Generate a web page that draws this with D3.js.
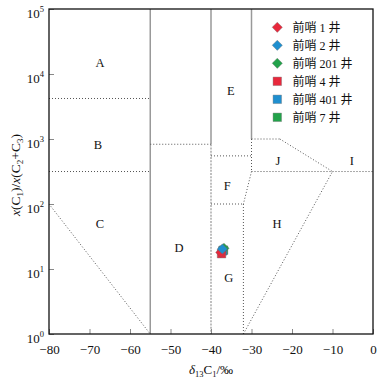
<!DOCTYPE html>
<html><head><meta charset="utf-8">
<script src="https://cdn.jsdelivr.net/npm/d3@7"></script>
<style>
html,body{margin:0;padding:0;background:#fff;}
text{font-family:"Liberation Serif","Times New Roman","Noto Sans CJK SC",serif;fill:#111;}
</style></head>
<body><svg id="c" width="387" height="380"></svg>
<script>
// ---- data ----
const xTicks = [-80, -70, -60, -50, -40, -30, -20, -10, 0];
const yExponents = [0, 1, 2, 3, 4, 5];
const wells = ["前哨 1 井", "前哨 2 井", "前哨 201 井", "前哨 4 井", "前哨 401 井", "前哨 7 井"];
const wellShapes = ["diamond", "diamond", "diamond", "square", "square", "square"];
const wellColors = ["#e8283c", "#1f8fcf", "#22a24a", "#e8283c", "#1f8fcf", "#22a24a"];
const wellD13C1 = [-37.6, -37.2, -36.8, -37.4, -37.1, -36.9];
const wellRatio = [18.0, 20.3, 20.8, 17.2, 19.0, 19.5];
const drawOrder = [5, 4, 2, 3, 0, 1];
const solidLines = [
  [[-55, 1e5], [-55, 1]],
  [[-40, 1e5], [-40, 830]],
  [[-30, 1e5], [-30, 1000]]
];
const dashedLines = [
  [[-40, 830], [-40, 1]]
];
const dottedLines = [
  [[-80, 4200], [-55, 4200]],
  [[-80, 316], [-55, 316]],
  [[-80, 100], [-55, 1]],
  [[-55, 830], [-40, 830]],
  [[-40, 550], [-30, 550]],
  [[-30, 1000], [-23, 1000]],
  [[-23, 1000], [-10, 316]],
  [[-30, 1000], [-30, 316]],
  [[-30, 316], [0, 316]],
  [[-30, 316], [-32, 100]],
  [[-40, 100], [-32, 100]],
  [[-32, 100], [-32, 1]],
  [[-32, 1], [-10, 316]]
];
const zoneNames = ["A", "B", "C", "D", "E", "F", "G", "H", "I", "J"];
const zoneX = [-67.4, -67.9, -67.4, -47.9, -35.1, -36.0, -35.6, -23.7, -5.2, -23.5];
const zoneY = [15100, 830, 51, 21.8, 5650, 196, 7.5, 51, 475, 475];

// ---- chart ----
const svg = d3.select("#c");
const L = 49, R = 373, T = 9, B = 334;
const x = d3.scaleLinear().domain([-80, 0]).range([L, R]);
const y = d3.scaleLog().domain([1, 1e5]).range([B, T]);
const line = d3.line().x(d => x(d[0])).y(d => y(d[1]));

// boundary lines
svg.append("g").selectAll("path").data(solidLines).join("path")
  .attr("d", line).attr("fill", "none").attr("stroke", "#999").attr("stroke-width", 1.5);
svg.append("g").selectAll("path").data(dashedLines).join("path")
  .attr("d", line).attr("fill", "none").attr("stroke", "#aaa").attr("stroke-width", 1.5)
  .attr("stroke-dasharray", "2,1.2");
svg.append("g").selectAll("path").data(dottedLines).join("path")
  .attr("d", line).attr("fill", "none").attr("stroke", "#555").attr("stroke-width", 1)
  .attr("stroke-dasharray", "1,2");

// axes
const xAxis = d3.axisBottom(x).tickValues(xTicks).tickSize(-5).tickPadding(11)
  .tickFormat(d => d === 0 ? "0" : "\u2212" + Math.abs(d));
const gx = svg.append("g").attr("transform", `translate(0,${B})`).call(xAxis);
gx.select(".domain").remove();
gx.selectAll(".tick line").attr("stroke", "#888");
gx.selectAll(".tick text").attr("font-size", 13).attr("fill", "#111")
  .attr("font-family", "Liberation Serif, serif");

const yAxis = d3.axisLeft(y).tickValues(yExponents.map(e => Math.pow(10, e))).tickSize(-5).tickFormat("");
const gy = svg.append("g").attr("transform", `translate(${L},0)`).call(yAxis);
gy.select(".domain").remove();
gy.selectAll(".tick line").attr("stroke", "#888");
const yl = svg.append("g").selectAll("text").data(yExponents).join("text")
  .attr("x", 44).attr("y", e => y(Math.pow(10, e)) + 8.5)
  .attr("text-anchor", "end").attr("font-size", 13);
yl.append("tspan").text("10");
yl.append("tspan").attr("dy", -6).attr("font-size", 8.5).text(e => e);

// frame
svg.append("rect").attr("x", L).attr("y", T).attr("width", R - L).attr("height", B - T)
  .attr("fill", "none").attr("stroke", "#111").attr("stroke-width", 1.3);

// zone labels
svg.append("g").selectAll("text").data(zoneNames).join("text")
  .attr("x", (d, i) => x(zoneX[i])).attr("y", (d, i) => y(zoneY[i]) + 4.5)
  .attr("text-anchor", "middle").attr("font-size", 12.5).text(d => d);

// points
const diamond = d3.symbol().type(d3.symbolSquare).size(52);
const square = d3.symbol().type(d3.symbolSquare).size(72);
svg.append("g").selectAll("path").data(drawOrder).join("path")
  .attr("d", i => wellShapes[i] === "diamond" ? diamond() : square())
  .attr("transform", i => `translate(${x(wellD13C1[i])},${y(wellRatio[i])})` + (wellShapes[i] === "diamond" ? " rotate(45)" : ""))
  .attr("fill", i => wellColors[i]).attr("stroke", "#666").attr("stroke-width", 0.4);

// legend
const lg = svg.append("g");
wells.forEach((w, i) => {
  const yy = 27.3 + i * 18;
  lg.append("path")
    .attr("d", wellShapes[i] === "diamond" ? diamond() : square())
    .attr("transform", `translate(277.3,${yy})` + (wellShapes[i] === "diamond" ? " rotate(45)" : ""))
    .attr("fill", wellColors[i]).attr("stroke", "#777").attr("stroke-width", 0.4);
  lg.append("text").attr("x", 292.5).attr("y", yy + 4.5).attr("font-size", 12).text(w);
});

// axis titles
const xt = svg.append("text").attr("x", 211).attr("y", 374).attr("text-anchor", "middle").attr("font-size", 13);
xt.append("tspan").attr("font-style", "italic").text("δ");
xt.append("tspan").attr("font-size", 8.5).attr("dy", 3).text("13");
xt.append("tspan").attr("dy", -3).text("C");
xt.append("tspan").attr("font-size", 8.5).attr("dy", 3).text("1");
xt.append("tspan").attr("dy", -3).text("/‰");

const yt = svg.append("text").attr("transform", "translate(20,175) rotate(-90)")
  .attr("text-anchor", "middle").attr("font-size", 13.5);
yt.append("tspan").attr("font-style", "italic").text("x");
yt.append("tspan").text("(C");
yt.append("tspan").attr("font-size", 9).attr("dy", 3).text("1");
yt.append("tspan").attr("dy", -3).text(")/");
yt.append("tspan").attr("font-style", "italic").text("x");
yt.append("tspan").text("(C");
yt.append("tspan").attr("font-size", 9).attr("dy", 3).text("2");
yt.append("tspan").attr("dy", -3).text("+C");
yt.append("tspan").attr("font-size", 9).attr("dy", 3).text("3");
yt.append("tspan").attr("dy", -3).text(")");
</script></body></html>
